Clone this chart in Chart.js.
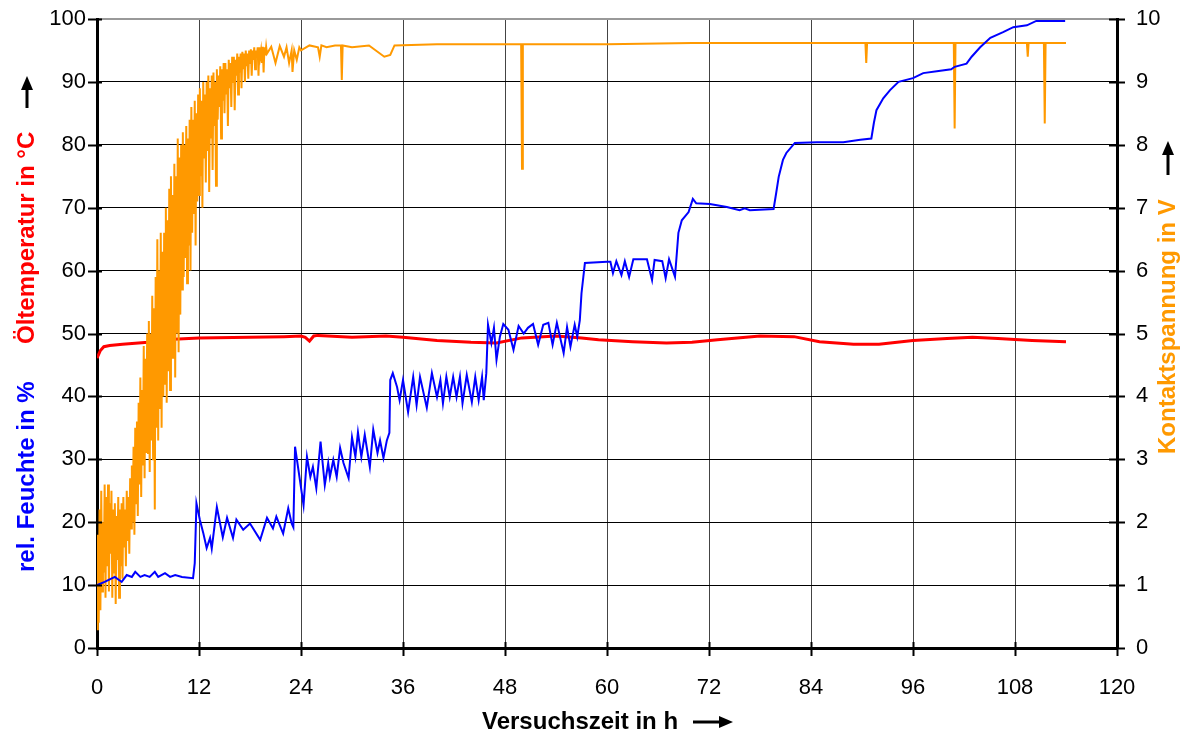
<!DOCTYPE html>
<html>
<head>
<meta charset="utf-8">
<script src="https://cdn.jsdelivr.net/npm/chart.js@4"></script>
<style>
  body { margin: 0; background: #fff; }
</style>
</head>
<body>
<canvas id="chart" width="1187" height="733"></canvas>
<script>
// x axis ticks (hours)
const hourTicks = [0, 12, 24, 36, 48, 60, 72, 84, 96, 108, 120];

// rel. Feuchte in % (left axis)
const humidityHours = [
  0, 0.9, 2.1, 2.9, 3.5, 4.1, 4.5, 5.1, 5.6, 6.2,
  6.8, 7.2, 8.0, 8.6, 9.2, 10.0, 11.3, 11.5, 11.7, 12.1,
  12.5, 12.9, 13.3, 13.5, 14.1, 14.8, 15.3, 16.0, 16.4, 17.2,
  18.0, 19.2, 20.0, 20.7, 21.1, 21.9, 22.5, 22.9, 23.1, 23.3,
  24.3, 24.7, 25.1, 25.4, 25.8, 26.3, 26.8, 27.2, 27.4, 27.8,
  28.2, 28.6, 29.0, 29.6, 30.0, 30.4, 30.7, 31.1, 31.5, 32.1,
  32.5, 33.0, 33.3, 33.7, 34.1, 34.4, 34.5, 34.8, 35.3, 35.6,
  36.0, 36.6, 37.2, 37.6, 38.0, 38.8, 39.4, 40.0, 40.4, 40.7,
  41.1, 41.5, 41.9, 42.3, 42.7, 43.0, 43.5, 44.1, 44.5, 44.9,
  45.3, 45.5, 45.8, 46.0, 46.4, 46.7, 47.0, 47.4, 47.8, 48.4,
  49.0, 49.6, 50.2, 50.7, 51.3, 51.9, 52.5, 53.1, 53.6, 54.1,
  54.9, 55.3, 55.7, 56.2, 56.5, 56.8, 57.0, 57.4, 60.0, 60.4,
  60.7, 61.1, 61.7, 62.1, 62.6, 63.1, 64.7, 65.3, 65.6, 66.5,
  66.9, 67.3, 68.0, 68.4, 68.8, 69.6, 70.1, 70.5, 72.1, 74.1,
  75.6, 76.2, 76.8, 79.6, 79.9, 80.2, 80.7, 81.1, 82.1, 84.7,
  87.8, 89.8, 91.1, 91.4, 91.7, 92.5, 93.3, 94.3, 96.0, 97.2,
  98.8, 100.5, 100.9, 102.3, 102.9, 103.9, 105.1, 106.6, 107.8, 109.4,
  110.5, 113.9
];
const humidityValues = [
  10.0, 10.5, 11.3, 10.5, 11.6, 11.3, 12.1, 11.3, 11.6, 11.3,
  12.1, 11.3, 11.9, 11.3, 11.6, 11.3, 11.1, 13.5, 23.0, 20.4,
  18.3, 15.9, 17.5, 15.8, 22.4, 17.6, 20.7, 17.5, 20.4, 18.8,
  19.8, 17.2, 20.7, 19.0, 20.9, 18.2, 22.2, 19.8, 19.2, 32.0,
  22.7, 30.4, 27.2, 28.8, 25.4, 32.8, 25.9, 29.4, 27.2, 29.9,
  27.2, 31.8, 29.4, 27.0, 33.5, 30.4, 34.3, 30.4, 33.9, 28.8,
  34.7, 31.0, 33.0, 30.2, 33.0, 34.2, 42.6, 43.7, 41.5, 39.4,
  42.6, 37.5, 43.1, 38.6, 43.1, 38.2, 43.7, 39.9, 42.6, 38.9,
  43.1, 39.9, 43.1, 39.9, 43.1, 38.9, 43.4, 39.1, 43.1, 39.4,
  43.1, 39.4, 43.7, 51.4, 48.5, 50.9, 45.8, 49.5, 51.5, 50.6,
  47.4, 51.2, 50.0, 50.9, 51.5, 48.2, 51.4, 51.7, 48.2, 51.7,
  46.9, 51.0, 47.9, 51.4, 49.5, 52.1, 56.4, 61.2, 61.4, 61.4,
  59.6, 61.5, 59.3, 61.5, 59.0, 61.8, 61.8, 58.5, 61.7, 61.5,
  58.8, 61.8, 59.0, 66.0, 68.0, 69.3, 71.4, 70.7, 70.6, 70.1,
  69.6, 69.9, 69.6, 69.8, 72.3, 74.9, 77.6, 78.7, 80.3, 80.4,
  80.4, 80.8, 81.0, 83.5, 85.5, 87.4, 88.7, 90.0, 90.6, 91.4,
  91.7, 92.0, 92.4, 92.9, 94.0, 95.5, 97.0, 97.9, 98.7, 99.0,
  99.7, 99.7
];

// Öltemperatur in °C (left axis)
const oilHours = [
  0, 0.4, 0.8, 1.5, 3, 6, 9, 12, 18, 22,
  24, 24.5, 25, 25.5, 26, 30, 34, 36, 40, 44,
  47, 50, 54, 57, 59, 63, 67, 70, 73, 78,
  82, 85, 89, 92, 96, 100, 103, 106, 110, 114
];
const oilValues = [
  46.1, 47.3, 47.9, 48.1, 48.3, 48.6, 49.1, 49.3, 49.4, 49.5,
  49.6, 49.4, 48.8, 49.6, 49.7, 49.4, 49.6, 49.4, 48.9, 48.6,
  48.5, 49.3, 49.6, 49.3, 49.0, 48.7, 48.5, 48.6, 49.0, 49.6,
  49.5, 48.7, 48.3, 48.3, 48.9, 49.2, 49.4, 49.2, 48.9, 48.7
];

// Kontaktspannung in V (right axis)
const voltageHours = [
  0.0, 0.1, 0.2, 0.3, 0.4, 0.5, 0.6, 0.7, 0.8, 0.9,
  1.0, 1.1, 1.2, 1.3, 1.4, 1.5, 1.6, 1.7, 1.8, 1.9,
  2.0, 2.1, 2.2, 2.3, 2.4, 2.5, 2.6, 2.7, 2.8, 2.9,
  3.0, 3.1, 3.2, 3.3, 3.4, 3.5, 3.6, 3.7, 3.8, 3.9,
  4.0, 4.1, 4.2, 4.3, 4.4, 4.5, 4.6, 4.7, 4.8, 4.9,
  5.0, 5.1, 5.2, 5.3, 5.4, 5.5, 5.6, 5.7, 5.8, 5.9,
  6.0, 6.1, 6.2, 6.3, 6.4, 6.5, 6.6, 6.7, 6.8, 6.9,
  7.0, 7.1, 7.2, 7.3, 7.4, 7.5, 7.6, 7.7, 7.8, 7.9,
  8.0, 8.1, 8.2, 8.3, 8.4, 8.5, 8.6, 8.7, 8.8, 8.9,
  9.0, 9.1, 9.2, 9.3, 9.4, 9.5, 9.6, 9.7, 9.8, 9.9,
  10.0, 10.1, 10.2, 10.3, 10.4, 10.5, 10.6, 10.7, 10.8, 10.9,
  11.0, 11.1, 11.2, 11.3, 11.4, 11.5, 11.6, 11.7, 11.8, 11.9,
  12.0, 12.1, 12.2, 12.3, 12.4, 12.5, 12.6, 12.7, 12.8, 12.9,
  13.0, 13.1, 13.2, 13.3, 13.4, 13.5, 13.6, 13.7, 13.8, 13.9,
  14.0, 14.1, 14.2, 14.3, 14.4, 14.5, 14.6, 14.7, 14.8, 14.9,
  15.0, 15.1, 15.2, 15.3, 15.4, 15.5, 15.6, 15.7, 15.8, 15.9,
  16.0, 16.1, 16.2, 16.3, 16.4, 16.5, 16.6, 16.7, 16.8, 16.9,
  17.0, 17.1, 17.2, 17.3, 17.4, 17.5, 17.6, 17.7, 17.8, 17.9,
  18.0, 18.1, 18.2, 18.3, 18.4, 18.5, 18.6, 18.7, 18.8, 18.9,
  19.0, 19.1, 19.2, 19.3, 19.4, 19.5, 19.6, 19.7, 19.8, 19.9,
  20.0, 20.5, 21.0, 21.5, 22.0, 22.3, 22.6, 22.9, 23.0, 23.2,
  23.5, 23.8, 24.0, 25.0, 26.0, 26.2, 26.4, 27.0, 28.0, 28.7,
  28.8, 28.9, 30.0, 32.0, 33.8, 34.5, 35.0, 40.0, 45.0, 49.9,
  50.0, 50.1, 60.0, 70.0, 80.0, 90.0, 90.4, 90.5, 90.6, 100.0,
  100.8, 100.9, 101.0, 109.4, 109.5, 109.6, 111.4, 111.5, 111.6, 114.0
];
const voltageValues = [
  0.3, 1.8, 0.4, 2.2, 0.6, 2.5, 0.9, 2.0, 1.2, 2.6,
  0.8, 2.4, 1.3, 2.6, 0.9, 2.3, 1.5, 2.5, 0.8, 2.2,
  1.2, 2.3, 0.7, 2.1, 1.4, 2.4, 0.8, 2.2, 1.3, 2.3,
  1.1, 2.4, 1.6, 2.2, 1.3, 2.5, 1.7, 2.4, 1.5, 2.7,
  1.9, 2.9, 2.0, 3.2, 1.8, 3.5, 2.3, 3.6, 2.1, 3.9,
  2.6, 4.3, 2.4, 4.1, 2.9, 4.8, 2.7, 4.6, 3.1, 5.0,
  3.1, 5.2, 2.8, 5.0, 3.3, 5.6, 3.0, 5.4, 2.2, 5.9,
  3.5, 6.5, 3.3, 6.0, 3.8, 6.6, 3.5, 6.3, 4.0, 6.6,
  4.2, 7.0, 3.9, 6.8, 4.4, 7.3, 4.1, 7.5, 4.6, 7.2,
  4.6, 7.7, 4.3, 7.5, 5.0, 8.1, 4.7, 7.8, 5.3, 8.0,
  5.7, 8.2, 5.9, 8.0, 6.2, 8.3, 5.8, 8.1, 6.4, 8.4,
  6.0, 8.6, 6.6, 8.4, 6.9, 8.7, 6.4, 8.5, 7.1, 8.8,
  7.2, 8.9, 7.5, 8.7, 7.0, 9.0, 7.8, 8.8, 7.4, 9.0,
  7.9, 9.1, 7.25, 8.9, 8.1, 9.1, 7.6, 9.15, 8.3, 9.0,
  7.35, 9.2, 8.4, 9.1, 8.6, 9.25, 8.1, 9.2, 8.7, 9.3,
  8.5, 9.3, 8.8, 9.2, 8.3, 9.35, 8.9, 9.3, 8.6, 9.4,
  9.0, 9.4, 8.55, 9.35, 9.1, 9.45, 8.8, 9.4, 9.15, 9.45,
  8.9, 9.48, 9.2, 9.45, 9.0, 9.5, 9.25, 9.45, 9.05, 9.5,
  9.3, 9.52, 9.1, 9.5, 9.35, 9.55, 9.2, 9.5, 9.38, 9.55,
  9.1, 9.55, 9.4, 9.5, 9.3, 9.56, 9.15, 9.55, 9.42, 9.56,
  9.45, 9.56, 9.3, 9.57, 9.4, 9.55, 9.3, 9.5, 9.16, 9.5,
  9.35, 9.55, 9.5, 9.58, 9.55, 9.4, 9.58, 9.55, 9.58, 9.58,
  9.03, 9.58, 9.55, 9.58, 9.4, 9.43, 9.58, 9.6, 9.6, 9.6,
  7.62, 9.6, 9.6, 9.62, 9.62, 9.62, 9.62, 9.3, 9.62, 9.62,
  9.62, 8.26, 9.62, 9.62, 9.4, 9.62, 9.62, 8.34, 9.62, 9.62
];

function toPoints(xs, ys) {
  return xs.map((x, i) => ({ x: x, y: ys[i] }));
}

const titleFont = 'bold 24px "Liberation Sans", Arial, sans-serif';

function vText(ctx, text, x, y, color, align) {
  ctx.save();
  ctx.translate(x, y);
  ctx.rotate(-Math.PI / 2);
  ctx.font = titleFont;
  ctx.fillStyle = color;
  ctx.textAlign = align;
  ctx.textBaseline = 'middle';
  ctx.fillText(text, 0, 0);
  ctx.restore();
}

function arrow(ctx, x1, y1, x2, y2) {
  const a = Math.atan2(y2 - y1, x2 - x1);
  ctx.save();
  ctx.strokeStyle = '#000';
  ctx.fillStyle = '#000';
  ctx.lineWidth = 3;
  ctx.beginPath();
  ctx.moveTo(x1, y1);
  ctx.lineTo(x2 - 10 * Math.cos(a), y2 - 10 * Math.sin(a));
  ctx.stroke();
  ctx.translate(x2, y2);
  ctx.rotate(a);
  ctx.beginPath();
  ctx.moveTo(0, 0);
  ctx.lineTo(-14, -6);
  ctx.lineTo(-14, 6);
  ctx.closePath();
  ctx.fill();
  ctx.restore();
}

const decorations = {
  id: 'decorations',
  afterDraw(chart) {
    const ctx = chart.ctx;
    const area = chart.chartArea;
    const sx = chart.scales.x, sy = chart.scales.y, sy2 = chart.scales.y2;
    ctx.save();
    ctx.strokeStyle = '#000';
    ctx.lineWidth = 2;
    ctx.beginPath();
    sy.ticks.forEach(t => {
      const p = Math.round(sy.getPixelForValue(t.value)) + 0.5;
      ctx.moveTo(area.left - 9, p);
      ctx.lineTo(area.left + 5, p);
    });
    sy2.ticks.forEach(t => {
      const p = Math.round(sy2.getPixelForValue(t.value)) + 0.5;
      ctx.moveTo(area.right - 8, p);
      ctx.lineTo(area.right + 8, p);
    });
    sx.ticks.forEach(t => {
      const p = Math.round(sx.getPixelForValue(t.value)) + 0.5;
      ctx.moveTo(p, area.bottom - 6);
      ctx.lineTo(p, area.bottom + 8);
    });
    ctx.stroke();
    ctx.restore();

    vText(ctx, 'rel. Feuchte in %', 27, 572, '#0000ff', 'left');
    vText(ctx, 'Öltemperatur in °C', 27, 344, '#ff0000', 'left');
    vText(ctx, 'Kontaktspannung in V', 1168, 454, '#ff9900', 'left');
    arrow(ctx, 27, 108, 27, 76);
    arrow(ctx, 1168, 175, 1168, 141);

    ctx.save();
    ctx.font = titleFont;
    ctx.fillStyle = '#000';
    ctx.textAlign = 'left';
    ctx.textBaseline = 'middle';
    ctx.fillText('Versuchszeit in h', 482, 722);
    ctx.restore();
    arrow(ctx, 693, 722, 733, 722);
  }
};

const tickFont = { family: '"Liberation Sans", Arial, sans-serif', size: 22 };

function fixVertical(width) {
  return s => {
    s.width = width;
    s.paddingTop = 0;
    s.paddingBottom = 0;
  };
}

new Chart(document.getElementById('chart'), {
  type: 'line',
  data: {
    datasets: [
      {
        label: 'rel. Feuchte',
        data: toPoints(humidityHours, humidityValues),
        borderColor: '#0000ff',
        borderWidth: 2,
        yAxisID: 'y'
      },
      {
        label: 'Kontaktspannung',
        data: toPoints(voltageHours, voltageValues),
        borderColor: '#ff9900',
        borderWidth: 2,
        yAxisID: 'y2'
      },
      {
        label: 'Öltemperatur',
        data: toPoints(oilHours, oilValues),
        borderColor: '#ff0000',
        borderWidth: 3,
        yAxisID: 'y'
      }
    ]
  },
  options: {
    responsive: false,
    animation: false,
    elements: { point: { radius: 0 }, line: { tension: 0 } },
    layout: { padding: { top: 19 } },
    plugins: { legend: { display: false }, tooltip: { enabled: false } },
    scales: {
      x: {
        type: 'linear',
        min: 0,
        max: 120,
        afterFit: s => { s.height = 85; s.paddingLeft = 0; s.paddingRight = 0; },
        afterBuildTicks: s => { s.ticks = hourTicks.map(v => ({ value: v })); },
        ticks: { color: '#000', font: tickFont, padding: 27, maxRotation: 0 },
        grid: { color: '#444', lineWidth: 1, drawTicks: false },
        border: { color: '#000', width: 3 }
      },
      y: {
        position: 'left',
        min: 0,
        max: 100,
        afterFit: fixVertical(97),
        ticks: { stepSize: 10, color: '#000', font: tickFont, padding: 11 },
        grid: {
          color: c => (c.tick && c.tick.value === 100 ? '#999' : '#000'),
          lineWidth: c => (c.tick && c.tick.value === 100 ? 2 : 1),
          drawTicks: false
        },
        border: { color: '#000', width: 3 }
      },
      y2: {
        position: 'right',
        min: 0,
        max: 10,
        afterFit: fixVertical(70),
        ticks: { stepSize: 1, color: '#000', font: tickFont, padding: 19 },
        grid: { drawOnChartArea: false, drawTicks: false },
        border: { color: '#000', width: 3 }
      }
    }
  },
  plugins: [decorations]
});
</script>
</body>
</html>
